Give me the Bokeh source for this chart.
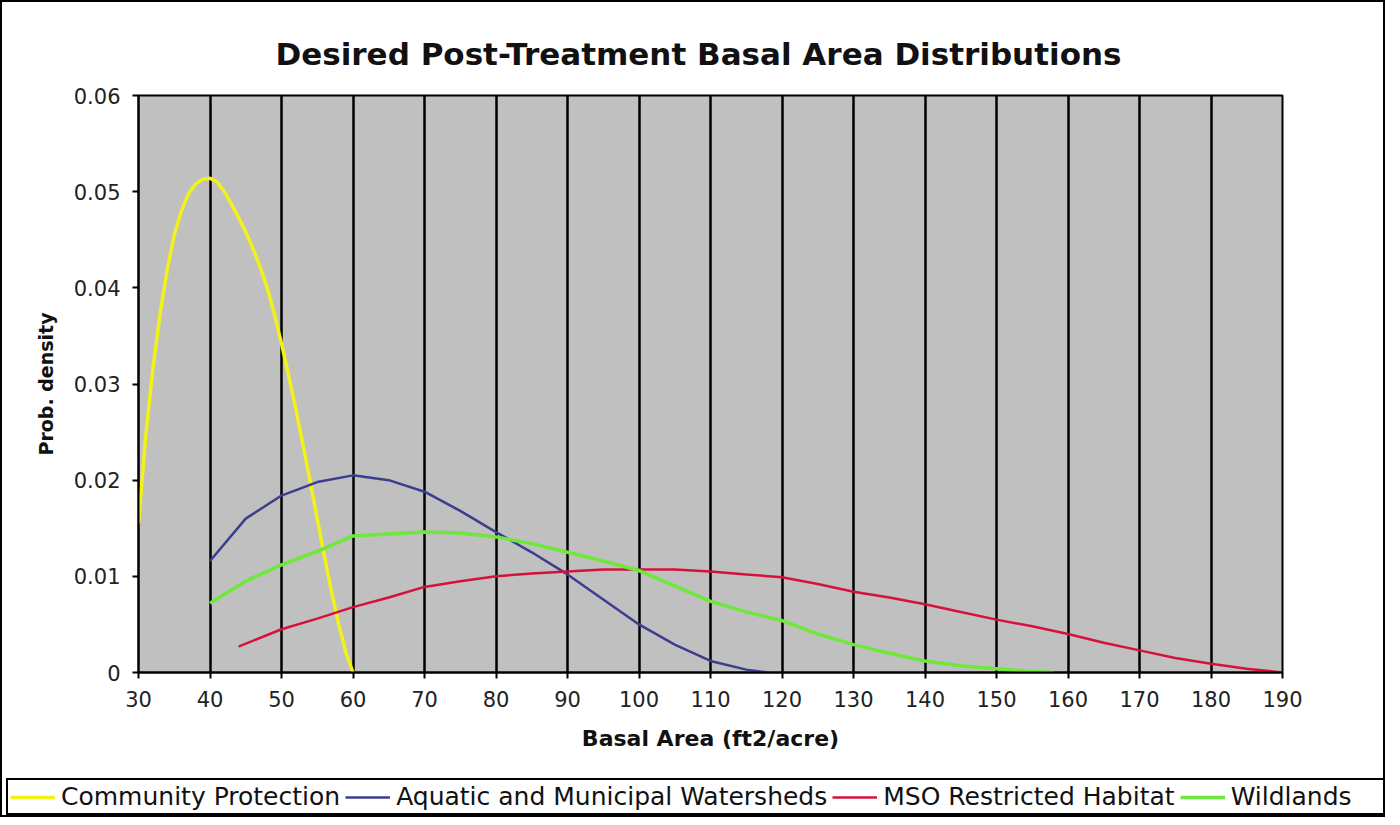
from bokeh.plotting import figure
from bokeh.models import FixedTicker, NumeralTickFormatter, Legend, LegendItem, Range1d
from bokeh.embed import file_html
from bokeh.resources import INLINE

# ---- data ----
cp_x = [30, 31, 32, 33, 34, 35, 36, 37, 38, 39, 40, 41, 42, 43, 44, 45, 46, 47, 48, 49,
        50, 51, 52, 53, 54, 55, 56, 57, 58, 59, 60]
cp_y = [0.0155, 0.0245, 0.0315, 0.0372, 0.0418, 0.0455, 0.0480, 0.0498, 0.0508, 0.0513,
        0.0514, 0.0510, 0.0500, 0.0487, 0.0473, 0.0458, 0.0441, 0.0422, 0.0400, 0.0373,
        0.0342, 0.0309, 0.0274, 0.0237, 0.0199, 0.0160, 0.0121, 0.0084, 0.0050, 0.0021, 0.0]

aq_x = [40, 45, 50, 55, 60, 65, 70, 75, 80, 85, 90, 95, 100, 105, 110, 115, 118]
aq_y = [0.0116, 0.0160, 0.0184, 0.0198, 0.0205, 0.0200, 0.0188, 0.0168, 0.0146, 0.0125,
        0.0102, 0.0076, 0.0050, 0.0029, 0.0012, 0.0003, 0.0]

mso_x = [44, 50, 55, 60, 65, 70, 75, 80, 85, 90, 95, 100, 105, 110, 115, 120, 125, 130,
         135, 140, 145, 150, 155, 160, 165, 170, 175, 180, 185, 190]
mso_y = [0.0027, 0.0045, 0.0056, 0.0068, 0.0078, 0.0089, 0.0095, 0.0100, 0.0103, 0.0105,
         0.0107, 0.0107, 0.0107, 0.0105, 0.0102, 0.0099, 0.0092, 0.0084, 0.0078, 0.0071,
         0.0063, 0.0055, 0.0048, 0.0040, 0.0031, 0.0023, 0.0015, 0.0009, 0.0004, 0.0]

wl_x = [40, 45, 50, 55, 60, 65, 70, 75, 80, 85, 90, 95, 100, 105, 110, 115, 120, 125,
        130, 135, 140, 145, 150, 155, 158]
wl_y = [0.0072, 0.0095, 0.0112, 0.0126, 0.0142, 0.0144, 0.0146, 0.0145, 0.0141, 0.0134,
        0.0125, 0.0116, 0.0106, 0.0090, 0.0074, 0.0063, 0.0054, 0.0040, 0.0029, 0.0020,
        0.0012, 0.0007, 0.0004, 0.0001, 0.0]

series_names = ["Community Protection", "Aquatic and Municipal Watersheds",
                "MSO Restricted Habitat", "Wildlands"]
series_colors = ["#f2f21a", "#3d3d8f", "#d4123c", "#6ee83a"]
series_widths = [3.5, 2.5, 2.5, 3.5]
x_ticks = list(range(30, 200, 10))
y_ticks = [0, 0.01, 0.02, 0.03, 0.04, 0.05, 0.06]

FONT = "DejaVu Sans"

# ---------------- main chart ----------------
p = figure(width=1385, height=774, output_backend="svg", toolbar_location=None,
           x_range=Range1d(30, 190), y_range=Range1d(0, 0.06),
           title="Desired Post-Treatment Basal Area Distributions",
           min_border_left=136, min_border_right=105, min_border_top=93,
           min_border_bottom=104)
p.styles = {"border-left": "2px solid black", "border-right": "2px solid black",
            "border-top": "2px solid black", "box-sizing": "border-box"}

p.title.align = "left"
p.title.offset = 137
p.title.vertical_align = "top"
p.title.standoff = 44
p.title.text_font = FONT
p.title.text_font_size = "31px"
p.title.text_font_style = "bold"
p.title.text_color = "#111111"

p.background_fill_color = "#c0c0c0"
p.border_fill_color = "white"
p.outline_line_color = "black"
p.outline_line_width = 2

p.xgrid.ticker = FixedTicker(ticks=x_ticks)
p.xgrid.grid_line_color = "black"
p.xgrid.grid_line_width = 2.5
p.ygrid.grid_line_color = None

for ax in (p.xaxis[0], p.yaxis[0]):
    ax.axis_line_color = "black"
    ax.axis_line_width = 2
    ax.major_tick_line_color = "black"
    ax.major_tick_line_width = 2
    ax.major_tick_out = 6
    ax.major_tick_in = 0
    ax.minor_tick_line_color = None
    ax.major_label_text_font = FONT
    ax.major_label_text_font_size = "21px"
    ax.major_label_text_color = "#222222"
    ax.axis_label_text_font = FONT
    ax.axis_label_text_font_style = "bold"
    ax.axis_label_text_color = "#111111"

p.xaxis.axis_label_text_font_size = "22px"
p.yaxis.axis_label_text_font_size = "19px"
p.xaxis.ticker = FixedTicker(ticks=x_ticks)
p.yaxis.ticker = FixedTicker(ticks=y_ticks)
p.yaxis.formatter = NumeralTickFormatter(format="0.[00]")
p.xaxis.axis_label = "Basal Area (ft2/acre)"
p.yaxis.axis_label = "Prob. density"
p.xaxis.major_label_standoff = 12
p.yaxis.major_label_standoff = 12
p.xaxis.axis_label_standoff = 16
p.yaxis.axis_label_standoff = 14

all_x = [cp_x, aq_x, mso_x, wl_x]
all_y = [cp_y, aq_y, mso_y, wl_y]
for xs, ys, c, w in zip(all_x, all_y, series_colors, series_widths):
    p.line(xs, ys, line_color=c, line_width=w)

# ---------------- legend strip (separate root, full-width frame) ----------------
lg = figure(width=1385, height=43, output_backend="svg", toolbar_location=None,
            x_range=Range1d(0, 1), y_range=Range1d(0, 1),
            x_axis_location=None, y_axis_location=None,
            min_border_left=0, min_border_right=0, min_border_top=0, min_border_bottom=0)
lg.styles = {"border-left": "2px solid black", "border-right": "2px solid black",
             "border-bottom": "2px solid black", "box-sizing": "border-box"}
lg.grid.visible = False
lg.outline_line_color = None
lg.background_fill_color = "white"
lg.border_fill_color = "white"

items = []
for name, c, w in zip(series_names, series_colors, series_widths):
    # sample-only renderer (points outside the visible range) so the legend can show the line style
    r = lg.line([-10, -9], [-10, -9], line_color=c, line_width=w)
    items.append(LegendItem(label=name, renderers=[r]))

legend = Legend(items=items, orientation="horizontal", location="top_left")
legend.label_text_font = FONT
legend.label_text_font_size = "25px"
legend.label_text_color = "#111111"
legend.border_line_color = "black"
legend.border_line_alpha = 1
legend.border_line_width = 2
legend.background_fill_color = "white"
legend.background_fill_alpha = 1
legend.glyph_width = 45
legend.glyph_height = 20
legend.label_standoff = 6
legend.label_width = 150
legend.spacing = 5
legend.padding = 2
legend.margin = 4
lg.add_layout(legend, "center")

open("out.html", "w").write(file_html([p, lg], INLINE))
